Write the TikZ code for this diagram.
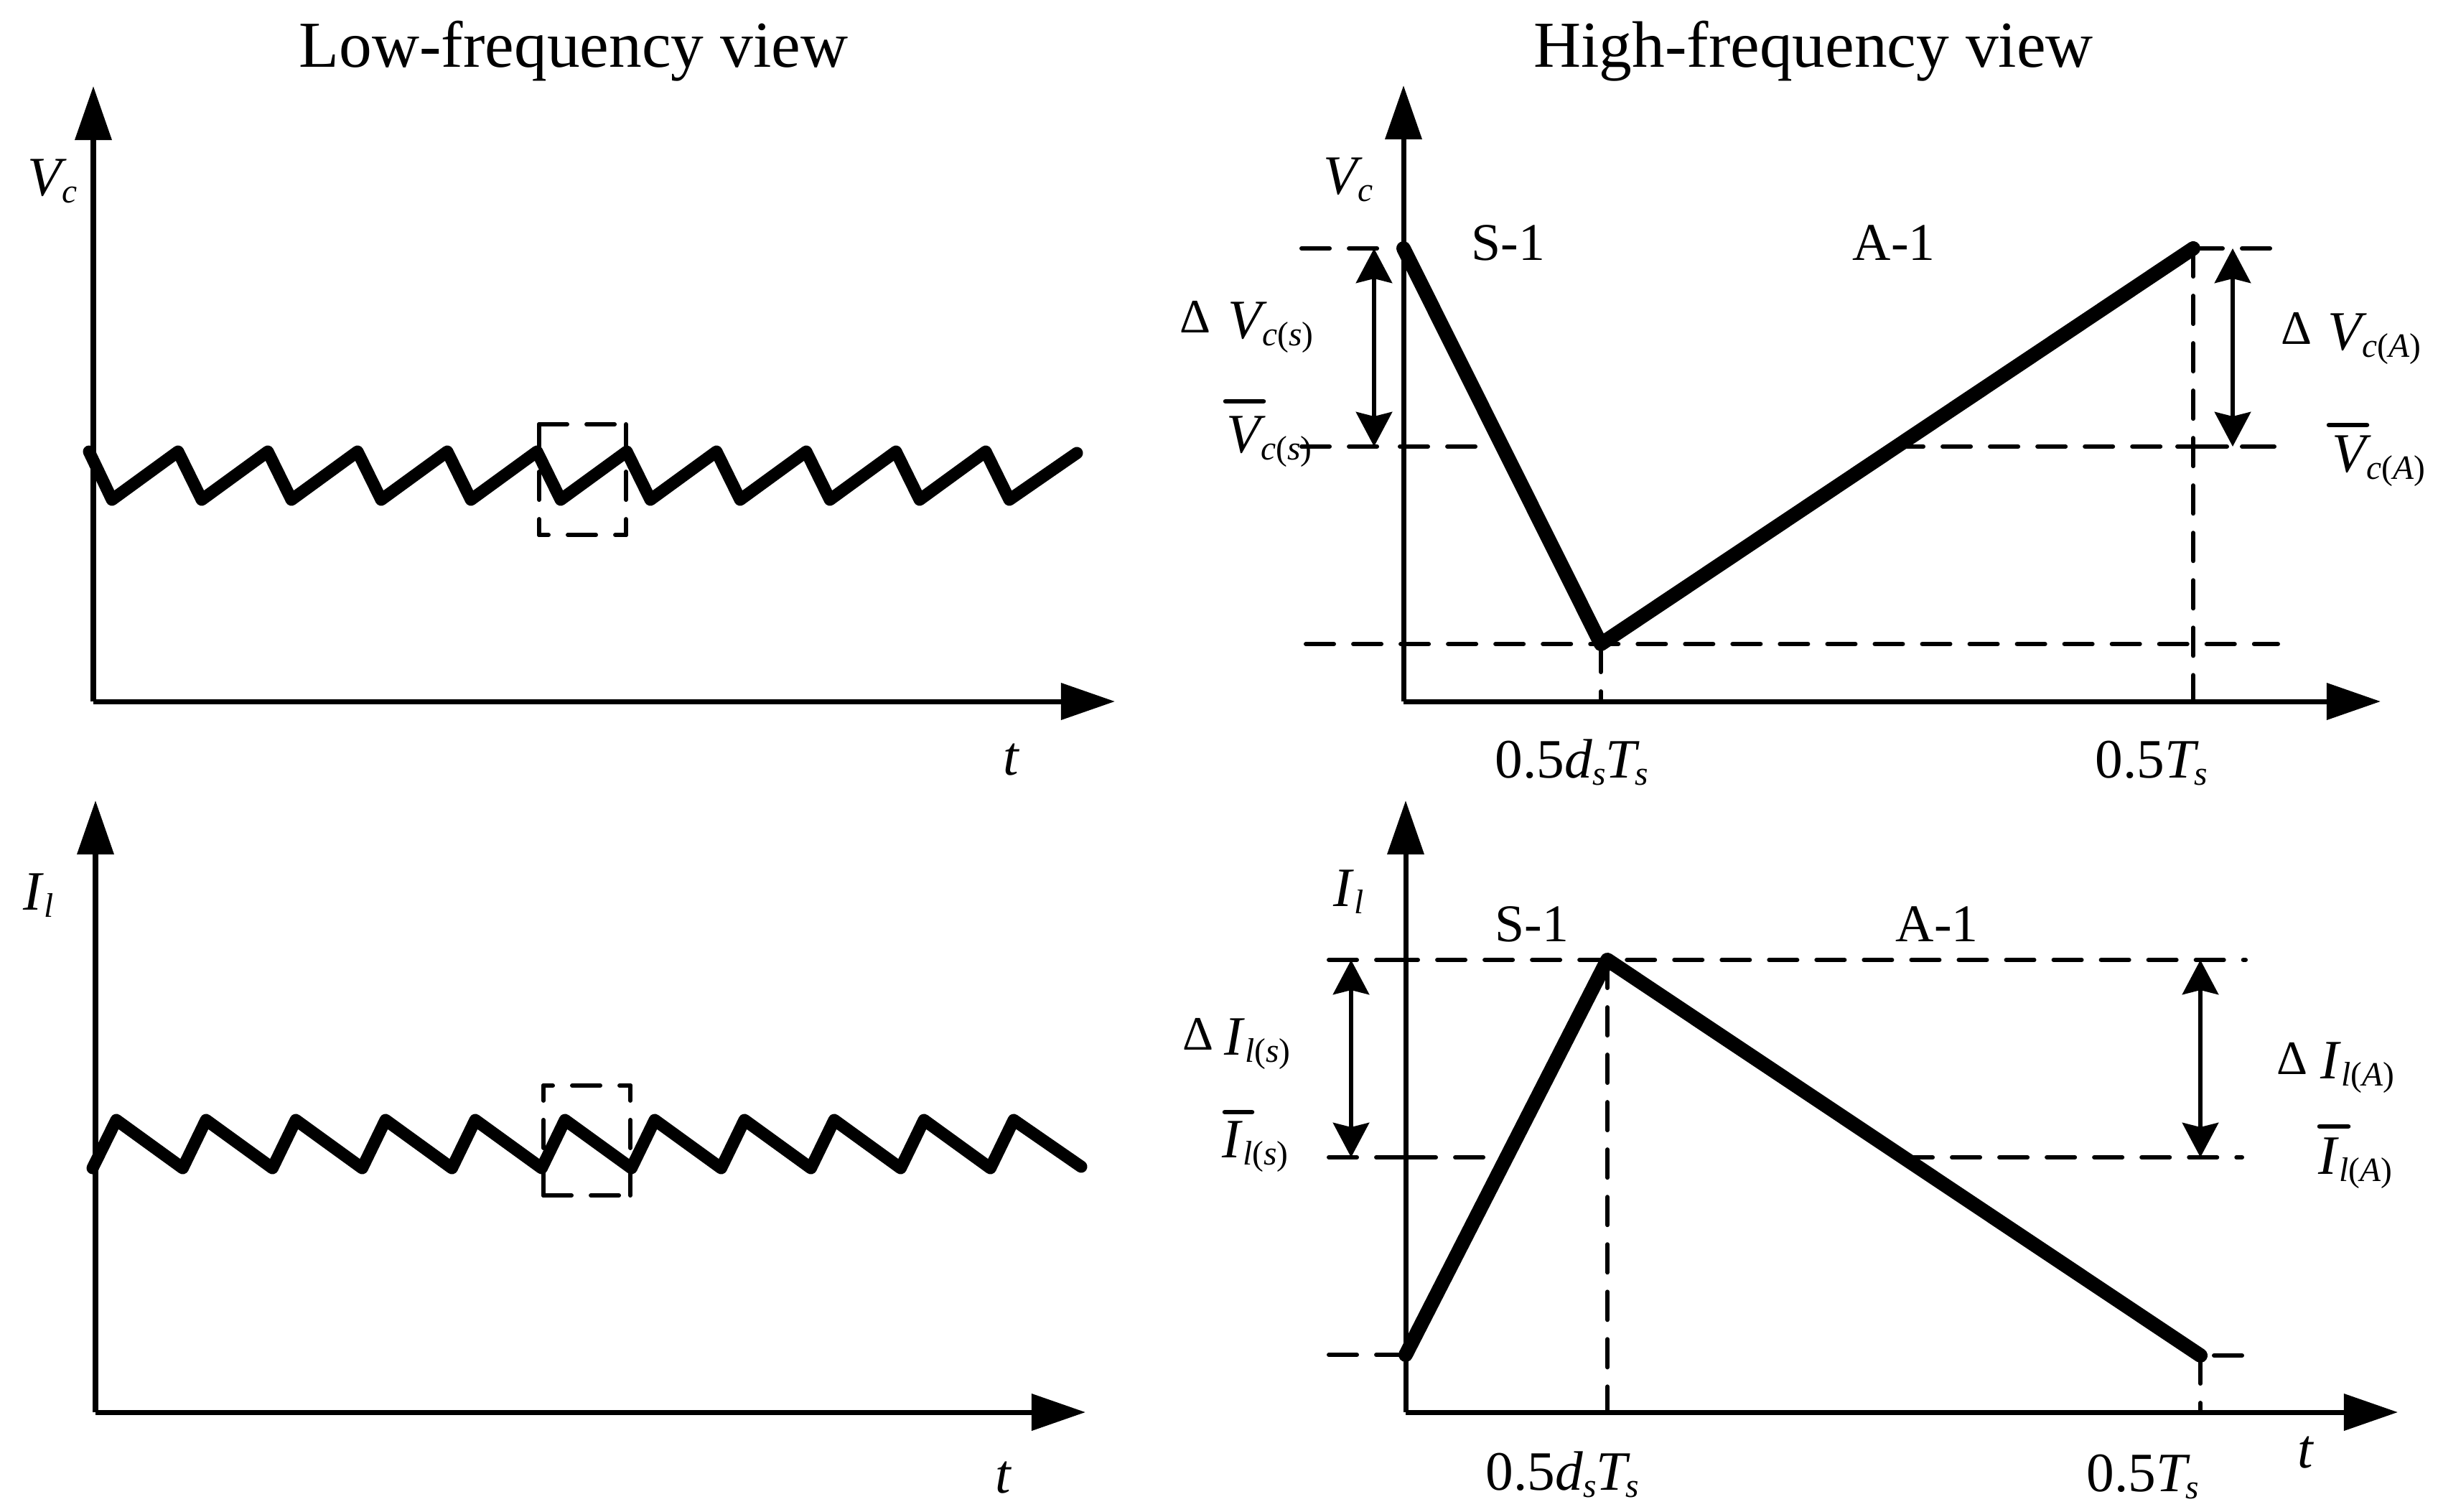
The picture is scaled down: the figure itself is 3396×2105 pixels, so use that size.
\documentclass[tikz,border=0pt]{standalone}
\usepackage{fontspec}
\setmainfont{Liberation Serif}
\usetikzlibrary{arrows.meta}
\newcommand\subsz{\fontsize{13.5pt}{14pt}\selectfont}
\newcommand\labfont{\fontsize{22pt}{24pt}\selectfont}
\newcommand\itsub[2]{\textit{#1}\raisebox{-.13em}{\subsz #2}}
\newcommand\itsubk[2]{\textit{#1}\kern-.09em\raisebox{-.13em}{\subsz #2}}
\newcommand\cs{\textit{c}(\textit{s})}
\newcommand\cA{\textit{c}(\textit{A})}
\newcommand\ls{\textit{l}(\textit{s})}
\newcommand\lA{\textit{l}(\textit{A})}
\tikzset{
  axisline/.style={line width=.07cm,-{Triangle[length=.75cm,width=.5cm]}},
  heavy/.style={line width=.20cm,line join=round,line cap=round},
  heavyleft/.style={line width=.17cm,line join=round,line cap=round},
  dashline/.style={line width=.06cm,line cap=round,dash pattern=on .39cm off .27cm},
  solidbit/.style={line width=.06cm,line cap=round},
  dimline/.style={line width=.065cm,{Stealth[length=.48cm,width=.5cm,inset=.06cm]}-{Stealth[length=.48cm,width=.5cm,inset=.06cm]}},
  barline/.style={line width=.065cm,line cap=round},
  lab/.style={anchor=base west,inner sep=0pt,font=\labfont},
  phase/.style={anchor=base west,inner sep=0pt,font=\fontsize{21pt}{24pt}\selectfont},
  deltalab/.style={anchor=base west,inner sep=0pt,font=\fontsize{19pt}{22pt}\selectfont},
  title/.style={anchor=base,inner sep=0pt,font=\fontsize{26pt}{28pt}\selectfont}
}
\begin{document}
\begin{tikzpicture}[x=.01cm,y=-.01cm]
\useasboundingbox (0,0) rectangle (3396,2105);
% titles
\node[title] (t1) at (799,93) {Low-frequency view};
\node[title] (t2) at (2526,93) {High-frequency view};
% left axes
\coordinate (o1) at (130,977);
\coordinate (o2) at (133,1967);
\draw[axisline] (o1) -- (130,120);
\draw[axisline] (o1) -- (1553,977);
\draw[axisline] (o2) -- (133,1115);
\draw[axisline] (o2) -- (1512,1967);
% dashed boxes
\draw[dashline] (751,591) -- (872,591);
\draw[dashline] (751,591) -- (751,745);
\draw[dashline] (872,591) -- (872,745);
\draw[dashline,dash phase=.26cm] (751,745) -- (872,745);
\draw[dashline] (757,1665) -- (878,1665);
\draw[dashline] (757,1665) -- (757,1512);
\draw[dashline] (878,1665) -- (878,1512);
\draw[dashline,dash phase=.26cm] (757,1512) -- (878,1512);
% zigzags
\draw[heavyleft] (124,629) \foreach \k in {0,...,9}{ -- ({156+125*\k},696) -- ({248+125*\k},629)} -- (1406,696) -- (1500,631);
\draw[heavyleft] (129,1627) \foreach \k in {0,...,9}{ -- ({162+125*\k},1560) -- ({254.5+125*\k},1627)} -- (1412,1560) -- (1506,1625);
% right axes
\coordinate (o3) at (1955,977);
\coordinate (o4) at (1958,1967);
\draw[axisline] (o3) -- (1955,119);
\draw[axisline] (o3) -- (3316,977);
\draw[axisline] (o4) -- (1958,1115);
\draw[axisline] (o4) -- (3340,1967);
% top right
\coordinate (a) at (1955,346);
\coordinate (b) at (2230,897);
\coordinate (c) at (3055,346);
\draw[dashline] (1813,346) -- (1924,346);
\draw[dashline] (3162,346) -- (c);
\draw[dashline] (1813,622) -- (1924,622);
\draw[dashline] (1950,622) -- (2061,622);
\draw[dashline] (2640,622) -- (3012,622);
\draw[solidbit] (3033,622) -- (3102,622);
\draw[solidbit] (3123,622) -- (3168,622);
\draw[dashline] (1819,897) -- (3173,897);
\draw[dashline] (b) -- (2230,977);
\draw[dashline] (c) -- (3055,977);
\draw[dimline] (1914,346) -- (1914,622);
\draw[dimline] (3110,346) -- (3110,622);
\draw[heavy] (a) -- (b) -- (c);
% bottom right
\coordinate (d) at (1958,1887);
\coordinate (e) at (2239,1337);
\coordinate (f) at (3065,1888);
\draw[dashline] (1851,1337) -- (1958,1337);
\draw[dashline] (1936,1337) -- (3128,1337);
\draw[dashline] (1851,1612) -- (1958,1612);
\draw[dashline] (1961,1612) -- (2071,1612);
\draw[dashline] (2653,1612) -- (3123,1612);
\draw[dashline] (1851,1887) -- (d);
\draw[dashline] (3123,1888) -- (f);
\draw[dashline] (e) -- (2239,1967);
\draw[dashline] (f) -- (3065,1967);
\draw[dimline] (1882,1337) -- (1882,1612);
\draw[dimline] (3065,1337) -- (3065,1612);
\draw[heavy] (d) -- (e) -- (f);
% axis labels
\node[lab] (v1) at (38,272) {\itsubk{V}{\textit{c}}};
\node[lab] (v2) at (1843,270) {\itsubk{V}{\textit{c}}};
\node[lab] (i1) at (32,1267) {\itsub{I}{\textit{l}}};
\node[lab] (i2) at (1857,1262) {\itsub{I}{\textit{l}}};
\node[lab] (t3) at (1397,1079) {\textit{t}};
\node[lab] (t4) at (1386,2079) {\textit{t}};
\node[lab] (t5) at (3200,2044) {\textit{t}};
% phase labels
\node[phase] (s1) at (2049,362) {S-1};
\node[phase] (a1) at (2580,362) {A-1};
\node[phase] (s2) at (2082,1311) {S-1};
\node[phase] (a2) at (2640,1311) {A-1};
% top right labels
\node[deltalab] (d1) at (1643,463) {Δ};
\node[lab] (d1v) at (1710,471) {\itsubk{V}{\cs}};
\node[lab] (m1) at (1708,630) {\itsubk{V}{\cs}};
\draw[barline] (1707,559) -- (1760,559);
\node[deltalab] (d2) at (3177,479) {Δ};
\node[lab] (d2v) at (3242,487) {\itsubk{V}{\cA}};
\node[lab] (m2) at (3248,657) {\itsubk{V}{\cA}};
\draw[barline] (3244,592) -- (3297,592);
% bottom right labels
\node[deltalab] (d3) at (1647,1462) {Δ};
\node[lab] (d3i) at (1705,1469) {\itsub{I}{\ls}};
\node[lab] (m3) at (1702,1612) {\itsub{I}{\ls}};
\draw[barline] (1706,1549) -- (1744,1549);
\node[deltalab] (d4) at (3171,1496) {Δ};
\node[lab] (d4i) at (3232,1502) {\itsub{I}{\lA}};
\node[lab] (m4) at (3229,1635) {\itsub{I}{\lA}};
\draw[barline] (3231,1569) -- (3271,1569);
% tick labels
\node[lab] (k1) at (2082,1083) {0.5\itsub{d}{\textit{s}}\itsubk{T}{\textit{s}}};
\node[lab] (k2) at (2918,1083) {0.5\itsubk{T}{\textit{s}}};
\node[lab] (k3) at (2069,2075) {0.5\itsub{d}{\textit{s}}\itsubk{T}{\textit{s}}};
\node[lab] (k4) at (2906,2077) {0.5\itsubk{T}{\textit{s}}};
\end{tikzpicture}
\end{document}
